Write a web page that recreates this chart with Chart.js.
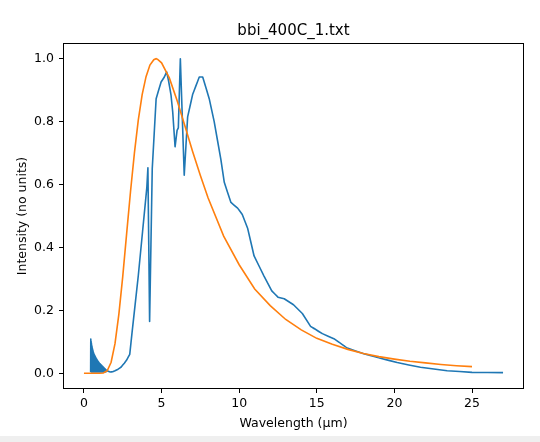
<!DOCTYPE html>
<html>
<head>
<meta charset="utf-8">
<script src="https://cdn.jsdelivr.net/npm/chart.js@4/dist/chart.umd.min.js"></script>
<style>
html,body{margin:0;padding:0;background:#efefef;}
#wrap{width:540px;height:436px;background:#ffffff;}
canvas{display:block;}
</style>
</head>
<body>
<div id="wrap"><canvas id="c" width="540" height="436"></canvas></div>
<script>
const chartTitle = "bbi_400C_1.txt";
const xLabel = "Wavelength (μm)";
const yLabel = "Intensity (no units)";
const xTicks = [0, 5, 10, 15, 20, 25];
const yTicks = [0.0, 0.2, 0.4, 0.6, 0.8, 1.0];

const blueX = [
  0.43,0.44,0.45,0.46,0.47,0.48,0.49,0.50,0.51,0.52,0.53,0.54,0.55,0.56,0.57,0.58,0.59,0.60,0.61,0.62,
  0.63,0.64,0.65,0.66,0.67,0.68,0.69,0.70,0.71,0.72,0.73,0.74,0.75,0.76,0.77,0.78,0.79,0.80,0.81,0.82,
  0.83,0.84,0.85,0.86,0.87,0.88,0.89,0.90,0.91,0.92,0.93,0.94,0.95,0.96,0.97,0.98,0.99,1.00,1.01,1.02,
  1.03,1.04,1.05,1.06,1.07,1.08,1.09,1.10,1.11,1.12,1.13,1.14,1.15,1.16,1.17,1.18,1.19,1.20,1.21,1.22,
  1.23,1.24,1.25,1.26,1.27,1.28,1.29,1.30,1.31,1.32,1.33,1.34,1.35,1.36,1.37,1.38,1.39,1.40,1.41,1.42,
  1.43,1.44,1.45,1.46,
  1.52,1.6,1.7,1.85,2.0,2.2,2.4,2.6,2.75,2.95,3.1,3.5,4.05,4.12,4.23,4.4,4.65,4.97,5.18,5.33,5.45,5.61,5.72,5.87,6.0,6.08,6.21,6.46,6.68,7.0,7.2,7.43,7.65,8.07,8.39,8.82,9.04,9.47,9.9,10.2,10.55,10.96,11.6,12.1,12.5,12.9,13.5,14.07,14.6,15.36,16.1,16.97,18.03,19.1,20.18,21.68,23.4,25.0,27.0];
const blueY = [
  0.004,0.109,0.005,0.102,0.004,0.096,0.006,0.090,0.005,0.085,0.004,0.080,0.006,0.076,0.005,0.072,0.004,0.068,0.006,0.065,
  0.005,0.062,0.004,0.060,0.006,0.058,0.005,0.056,0.004,0.054,0.006,0.052,0.005,0.050,0.004,0.048,0.006,0.046,0.005,0.045,
  0.004,0.043,0.006,0.042,0.005,0.040,0.004,0.039,0.006,0.037,0.005,0.036,0.004,0.035,0.006,0.033,0.005,0.032,0.004,0.031,
  0.006,0.030,0.005,0.029,0.004,0.028,0.006,0.027,0.005,0.026,0.004,0.025,0.006,0.024,0.005,0.023,0.004,0.022,0.006,0.021,
  0.005,0.020,0.004,0.019,0.006,0.018,0.005,0.017,0.004,0.016,0.006,0.015,0.005,0.014,0.004,0.013,0.006,0.012,0.005,0.011,
  0.005,0.010,0.006,0.009,
  0.007,0.006,0.004,0.005,0.008,0.013,0.020,0.032,0.042,0.060,0.130,0.310,0.590,0.653,0.165,0.650,0.873,0.926,0.942,0.958,0.930,0.884,0.830,0.720,0.772,0.780,1.000,0.630,0.815,0.886,0.912,0.942,0.942,0.873,0.800,0.680,0.607,0.543,0.525,0.505,0.460,0.373,0.309,0.262,0.242,0.237,0.218,0.190,0.149,0.126,0.110,0.080,0.062,0.048,0.034,0.019,0.008,0.003,0.002];

const orangeX = [0,0.5,1.0,1.25,1.5,1.75,2.0,2.25,2.5,2.75,3.0,3.25,3.5,3.75,4.0,4.25,4.5,4.65,4.75,5.0,5.5,6.0,6.5,7.0,7.5,8.0,9.0,10,11,12,13,14,15,16,17,18,19,20,21,22,23,24,25];
const orangeY = [0,0,0,0.001,0.008,0.035,0.094,0.188,0.308,0.444,0.578,0.700,0.805,0.886,0.943,0.980,0.997,1.000,0.998,0.987,0.939,0.867,0.787,0.705,0.629,0.557,0.436,0.345,0.268,0.215,0.171,0.138,0.111,0.092,0.076,0.063,0.053,0.045,0.038,0.033,0.028,0.024,0.021];

const FONT = "'DejaVu Sans', sans-serif";

const framePlugin = {
  id: 'frame',
  afterDraw(chart) {
    const {ctx, chartArea: a} = chart;
    ctx.save();
    ctx.strokeStyle = '#000';
    ctx.lineWidth = 1;
    ctx.strokeRect(Math.round(a.left) + 0.5, Math.round(a.top) + 0.5, Math.round(a.right - a.left) - 1, Math.round(a.bottom - a.top) - 1);
    ctx.fillStyle = '#000';
    ctx.textAlign = 'center';
    ctx.textBaseline = 'alphabetic';
    ctx.font = "15px " + FONT;
    ctx.fillText(chartTitle, (a.left + a.right) / 2, 35);
    ctx.font = "12.5px " + FONT;
    ctx.fillText(xLabel, (a.left + a.right) / 2, 427);
    ctx.translate(26, (a.top + a.bottom) / 2);
    ctx.rotate(-Math.PI / 2);
    ctx.fillText(yLabel, 0, 0);
    ctx.restore();
  }
};

new Chart(document.getElementById('c'), {
  type: 'line',
  data: {
    datasets: [
      {
        data: blueX.map((x, i) => ({x: x, y: blueY[i]})),
        borderColor: '#1f77b4',
        borderWidth: 1.6,
        pointRadius: 0,
        tension: 0.000001,
        borderJoinStyle: 'round',
        order: 1
      },
      {
        data: orangeX.map((x, i) => ({x: x, y: orangeY[i]})),
        borderColor: '#ff7f0e',
        borderWidth: 1.6,
        pointRadius: 0,
        tension: 0,
        order: 0
      }
    ]
  },
  plugins: [framePlugin],
  options: {
    responsive: false,
    animation: false,
    devicePixelRatio: 1,
    layout: {padding: {top: 43, right: 16, left: 0, bottom: 0}},
    plugins: {legend: {display: false}, tooltip: {enabled: false}, title: {display: false}},
    scales: {
      x: {
        type: 'linear',
        min: -1.35,
        max: 28.35,
        afterBuildTicks: s => { s.ticks = xTicks.map(v => ({value: v})); },
        afterFit: s => { s.height = 47; },
        border: {display: false},
        grid: {drawOnChartArea: false, drawTicks: true, tickLength: 4, color: '#000', tickWidth: 1},
        ticks: {color: '#000', font: {family: FONT, size: 12.5}, padding: 3, maxRotation: 0,
          callback: v => String(v)}
      },
      y: {
        type: 'linear',
        min: -0.05,
        max: 1.05,
        afterBuildTicks: s => { s.ticks = yTicks.map(v => ({value: v})); },
        afterFit: s => { s.width = 63; },
        border: {display: false},
        grid: {drawOnChartArea: false, drawTicks: true, tickLength: 4, color: '#000', tickWidth: 1},
        ticks: {color: '#000', font: {family: FONT, size: 12.5}, padding: 5,
          callback: v => Number(v).toFixed(1)}
      }
    }
  }
});
</script>
</body>
</html>
